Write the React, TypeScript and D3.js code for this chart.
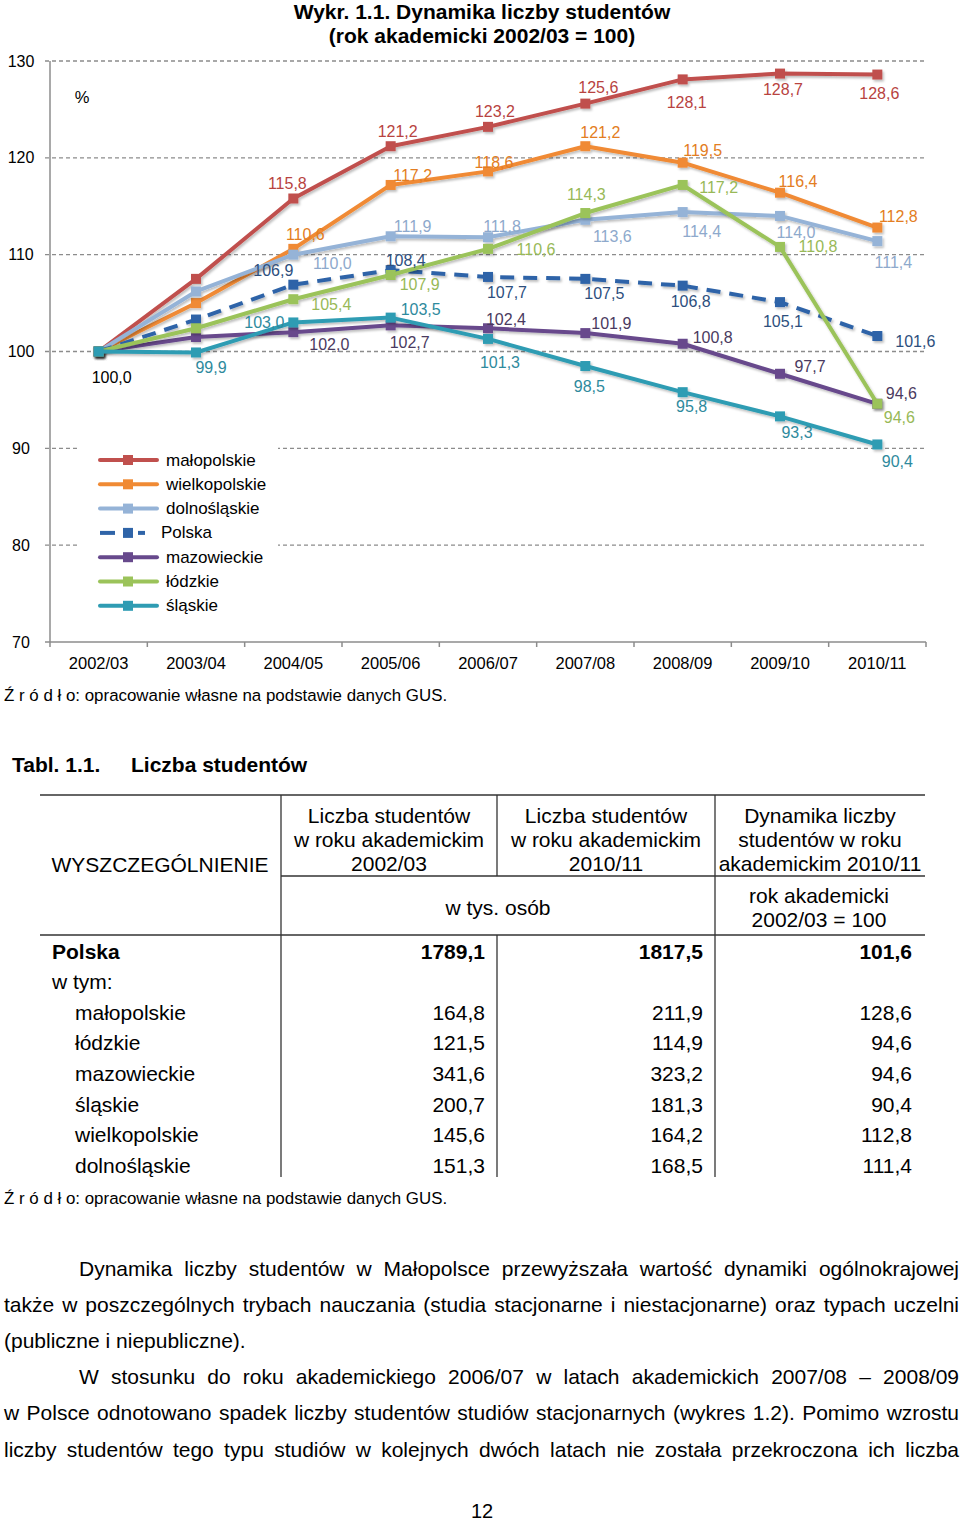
import { useEffect, useRef } from "react";
import * as d3 from "d3";

const years = ["2002/03", "2003/04", "2004/05", "2005/06", "2006/07", "2007/08", "2008/09", "2009/10", "2010/11"];
const yTicks = [70, 80, 90, 100, 110, 120, 130];

const malopolskie = [100, 107.5, 115.8, 121.2, 123.2, 125.6, 128.1, 128.7, 128.6];
const wielkopolskie = [100, 105.0, 110.6, 117.2, 118.6, 121.2, 119.5, 116.4, 112.8];
const dolnoslaskie = [100, 106.2, 110.0, 111.9, 111.8, 113.6, 114.4, 114.0, 111.4];
const polska = [100, 103.3, 106.9, 108.4, 107.7, 107.5, 106.8, 105.1, 101.6];
const mazowieckie = [100, 101.5, 102.0, 102.7, 102.4, 101.9, 100.8, 97.7, 94.6];
const lodzkie = [100, 102.4, 105.4, 107.9, 110.6, 114.3, 117.2, 110.8, 94.6];
const slaskie = [100, 99.9, 103.0, 103.5, 101.3, 98.5, 95.8, 93.3, 90.4];

// label offsets from the point (dx, dy), null = no label
type Off = [number, number] | null;
const series: { name: string; values: number[]; color: string; labelColor: string; dashed?: boolean; offs: Off[] }[] = [
  {
    name: "małopolskie", values: malopolskie, color: "#c0504d", labelColor: "#b8433f",
    offs: [null, null, [-6, -15], [7, -15], [7, -15], [13, -16], [4, 23], [3, 16], [2, 19]],
  },
  {
    name: "wielkopolskie", values: wielkopolskie, color: "#f08a34", labelColor: "#e37d22",
    offs: [null, null, [12, -14], [22, -9], [6, -9], [15, -14], [20, -12], [18, -11], [21, -11]],
  },
  {
    name: "dolnośląskie", values: dolnoslaskie, color: "#95b3d7", labelColor: "#8ea9cc",
    offs: [null, null, [39, 9], [22, -10], [14, -11], [27, 17], [19, 19], [16, 17], [16, 21]],
  },
  {
    name: "Polska", values: polska, color: "#2f64a8", labelColor: "#2d4f7e", dashed: true,
    offs: [null, null, [-20, -14], [15, -10], [19, 16], [19, 15], [8, 16], [3, 19], [38, 5]],
  },
  {
    name: "mazowieckie", values: mazowieckie, color: "#67498c", labelColor: "#4a3a60",
    offs: [null, null, [36, 12], [19, 17], [18, -9], [26, -10], [30, -6], [30, -7], [24, -10]],
  },
  {
    name: "łódzkie", values: lodzkie, color: "#9bc35a", labelColor: "#98b957",
    offs: [null, null, [38, 5], [29, 9], [48, 1], [1, -19], [36, 3], [38, 0], [22, 14]],
  },
  {
    name: "śląskie", values: slaskie, color: "#2f9cb3", labelColor: "#2e8a9d",
    offs: [null, [15, 15], [-29, 0], [30, -8], [12, 24], [4, 20], [9, 14], [17, 16], [20, 17]],
  },
];

const tableNames = ["Polska", "w tym:", "małopolskie", "łódzkie", "mazowieckie", "śląskie", "wielkopolskie", "dolnośląskie"];
const students2002 = ["1789,1", "", "164,8", "121,5", "341,6", "200,7", "145,6", "151,3"];
const students2010 = ["1817,5", "", "211,9", "114,9", "323,2", "181,3", "164,2", "168,5"];
const dynamics = ["101,6", "", "128,6", "94,6", "94,6", "90,4", "112,8", "111,4"];

const paragraph = [
  { text: "Dynamika liczby studentów w Małopolsce przewyższała wartość dynamiki ogólnokrajowej", x: 79, justify: true },
  { text: "także w poszczególnych trybach nauczania (studia stacjonarne i niestacjonarne) oraz typach uczelni", x: 4, justify: true },
  { text: "(publiczne i niepubliczne).", x: 4, justify: false },
  { text: "W stosunku do roku akademickiego 2006/07 w latach akademickich 2007/08 – 2008/09", x: 79, justify: true },
  { text: "w Polsce odnotowano spadek liczby studentów studiów stacjonarnych (wykres 1.2). Pomimo wzrostu", x: 4, justify: true },
  { text: "liczby studentów tego typu studiów w kolejnych dwóch latach nie została przekroczona ich liczba", x: 4, justify: true },
];

const FONT = "'Liberation Sans', Arial, sans-serif";
const fmt = (v: number) => v.toFixed(1).replace(".", ",");

export default function App() {
  const paraRef = useRef<SVGGElement>(null);

  const x = d3.scaleBand().domain(years).range([50, 926]);
  const cx = (d: string) => (x(d) || 0) + x.bandwidth() / 2;
  const y = d3.scaleLinear().domain([70, 130]).range([642, 61]);
  const line = d3.line<number>().x((_, i) => cx(years[i])).y((v) => y(v));

  useEffect(() => {
    if (!paraRef.current) return;
    d3.select(paraRef.current)
      .selectAll<SVGTextElement, unknown>("text[data-justify='1']")
      .each(function () {
        const el = this;
        el.setAttribute("word-spacing", "0");
        const natural = el.getComputedTextLength();
        const x0 = +(el.getAttribute("x") || 0);
        const spaces = (el.textContent || "").split(" ").length - 1;
        const target = 959 - x0;
        if (spaces > 0) el.setAttribute("word-spacing", String((target - natural) / spaces));
      });
  }, []);

  const legendRows = series.map((s, i) => ({ ...s, ly: 460 + i * 24.3 }));
  const rowY = (i: number) => 951 + i * 30.6;

  return (
    <svg width={960} height={1523} style={{ position: "absolute", left: 0, top: 0, background: "#fff" }} fontFamily={FONT}>
      <defs>
        <filter id="shadow" x="-10%" y="-10%" width="120%" height="130%">
          <feDropShadow dx="1.5" dy="2" stdDeviation="1.2" floodColor="#000" floodOpacity="0.25" />
        </filter>
      </defs>

      {/* title */}
      <text x={482} y={19} textAnchor="middle" fontSize={21} fontWeight="bold">Wykr. 1.1. Dynamika liczby studentów</text>
      <text x={482} y={43} textAnchor="middle" fontSize={21} fontWeight="bold">(rok akademicki 2002/03 = 100)</text>

      {/* grid */}
      {yTicks.slice(1).map((t) => (
        <line key={t} x1={45} x2={926} y1={y(t)} y2={y(t)} stroke="#8c8c8c" strokeDasharray="4,3" strokeWidth={1.3} />
      ))}
      {yTicks.map((t) => (
        <text key={t} x={21} y={y(t)} textAnchor="middle" dominantBaseline="central" fontSize={16}>{t}</text>
      ))}
      <line x1={50} x2={50} y1={61} y2={642} stroke="#8c8c8c" strokeWidth={1.5} />
      <line x1={45} x2={926} y1={642} y2={642} stroke="#8c8c8c" strokeWidth={1.5} />
      {years.map((d) => (
        <line key={d} x1={x(d)} x2={x(d)} y1={642} y2={647} stroke="#8c8c8c" strokeWidth={1.5} />
      ))}
      <line x1={926} x2={926} y1={642} y2={647} stroke="#8c8c8c" strokeWidth={1.5} />
      {years.map((d) => (
        <text key={d} x={cx(d)} y={663} textAnchor="middle" dominantBaseline="central" fontSize={16.5}>{d}</text>
      ))}
      <text x={82} y={97} textAnchor="middle" dominantBaseline="central" fontSize={16.5}>%</text>

      {/* legend */}
      <rect x={78} y={440} width={200} height={180} fill="#fff" />
      {legendRows.map((s) => (
        <g key={s.name}>
          {s.dashed ? (
            <>
              <line x1={100} x2={115} y1={s.ly} y2={s.ly} stroke={s.color} strokeWidth={4} />
              <line x1={138} x2={145} y1={s.ly} y2={s.ly} stroke={s.color} strokeWidth={4} />
            </>
          ) : (
            <line x1={100} x2={157} y1={s.ly} y2={s.ly} stroke={s.color} strokeWidth={4} strokeLinecap="round" />
          )}
          <rect x={123} y={s.ly - 5} width={10} height={10} fill={s.color} />
          <text x={s.dashed ? 161 : 166} y={s.ly} dominantBaseline="central" fontSize={17}>{s.name}</text>
        </g>
      ))}

      {/* series */}
      {series.map((s) => (
        <g key={s.name} filter="url(#shadow)">
          <path d={line(s.values) || ""} fill="none" stroke={s.color} strokeWidth={4}
            strokeDasharray={s.dashed ? "14,9" : undefined} strokeLinejoin="round" />
          {s.values.map((v, i) => (
            <rect key={i} x={cx(years[i]) - 5} y={y(v) - 5} width={10} height={10} fill={s.color} />
          ))}
        </g>
      ))}
      {series.map((s) => (
        <g key={s.name + "l"}>
          {s.values.map((v, i) => {
            const o = s.offs[i];
            if (!o) return null;
            return (
              <text key={i} x={cx(years[i]) + o[0]} y={y(v) + o[1]} textAnchor="middle" dominantBaseline="central"
                fontSize={16} fill={s.labelColor}>{fmt(v)}</text>
            );
          })}
        </g>
      ))}
      <text x={cx(years[0]) + 13} y={y(100) + 26} textAnchor="middle" dominantBaseline="central" fontSize={16}>100,0</text>

      <text x={4} y={695} dominantBaseline="central" fontSize={16.9}>Ź r ó d ł o: opracowanie własne na podstawie danych GUS.</text>

      {/* table */}
      <text x={12} y={764} dominantBaseline="central" fontSize={21} fontWeight="bold">Tabl. 1.1.</text>
      <text x={131} y={764} dominantBaseline="central" fontSize={21} fontWeight="bold">Liczba studentów</text>
      <g stroke="#333" strokeWidth={1.3}>
        <line x1={40} x2={925} y1={795} y2={795} />
        <line x1={281} x2={925} y1={876} y2={876} />
        <line x1={40} x2={925} y1={935} y2={935} />
        <line x1={281} x2={281} y1={795} y2={1177} />
        <line x1={497} x2={497} y1={795} y2={876} />
        <line x1={497} x2={497} y1={935} y2={1177} />
        <line x1={715} x2={715} y1={795} y2={1177} />
      </g>
      <g fontSize={21} textAnchor="middle" dominantBaseline="central">
        <text x={160} y={864}>WYSZCZEGÓLNIENIE</text>
        {["Liczba studentów", "w roku akademickim", "2002/03"].map((t, i) => (
          <text key={t} x={389} y={815 + i * 24}>{t}</text>
        ))}
        {["Liczba studentów", "w roku akademickim", "2010/11"].map((t, i) => (
          <text key={t} x={606} y={815 + i * 24}>{t}</text>
        ))}
        {["Dynamika liczby", "studentów w roku", "akademickim 2010/11"].map((t, i) => (
          <text key={t} x={820} y={815 + i * 24}>{t}</text>
        ))}
        <text x={498} y={907}>w tys. osób</text>
        <text x={819} y={895}>rok akademicki</text>
        <text x={819} y={919}>2002/03 = 100</text>
      </g>
      <g fontSize={21} dominantBaseline="central">
        {tableNames.map((n, i) => (
          <g key={n} fontWeight={i === 0 ? "bold" : "normal"}>
            <text x={i < 2 ? 52 : 75} y={rowY(i)}>{n}</text>
            <text x={485} y={rowY(i)} textAnchor="end">{students2002[i]}</text>
            <text x={703} y={rowY(i)} textAnchor="end">{students2010[i]}</text>
            <text x={912} y={rowY(i)} textAnchor="end">{dynamics[i]}</text>
          </g>
        ))}
      </g>
      <text x={4} y={1198} dominantBaseline="central" fontSize={16.9}>Ź r ó d ł o: opracowanie własne na podstawie danych GUS.</text>

      {/* paragraph */}
      <g ref={paraRef} fontSize={21}>
        {paragraph.map((p, i) => (
          <text key={i} x={p.x} y={1268 + i * 36.2} dominantBaseline="central" data-justify={p.justify ? "1" : "0"}>{p.text}</text>
        ))}
      </g>
      <text x={482} y={1511} textAnchor="middle" dominantBaseline="central" fontSize={20}>12</text>
    </svg>
  );
}
